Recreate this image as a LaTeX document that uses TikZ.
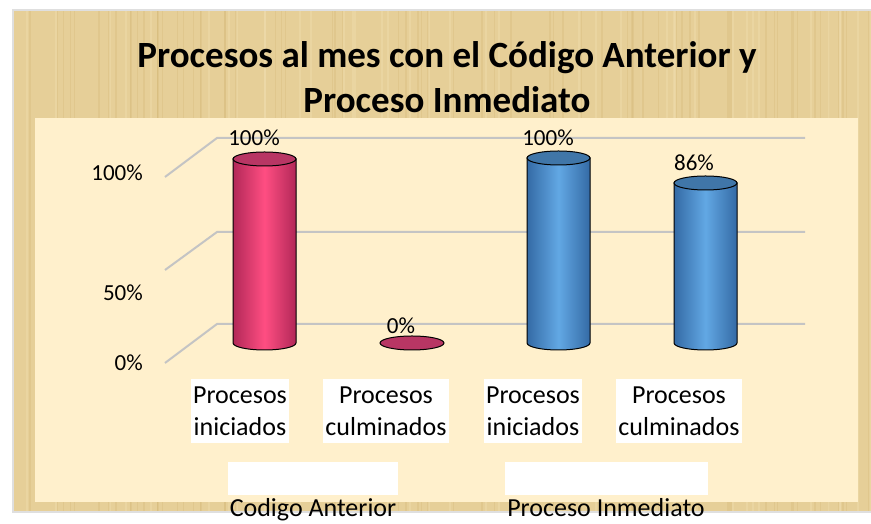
\documentclass[tikz,border=0pt]{standalone}
\usepackage{fontspec}
\setmainfont{Carlito}

\definecolor{paper}{RGB}{230,207,152}
\definecolor{paperdark}{RGB}{214,186,122}
\definecolor{paperlight}{RGB}{240,222,176}
\definecolor{cream}{RGB}{255,240,204}
\definecolor{gridgray}{RGB}{196,196,196}
\definecolor{pinkdark}{RGB}{178,40,88}
\definecolor{pinkmid}{RGB}{255,78,130}
\definecolor{pinktop}{RGB}{184,54,100}
\definecolor{bluedark}{RGB}{52,106,165}
\definecolor{bluemid}{RGB}{98,168,228}
\definecolor{bluetop}{RGB}{64,118,168}

% cylinder: centre x, top y, colour prefix
\newcommand{\cylbar}[3]{%
  \shade[left color=#3dark,right color=#3dark,middle color=#3mid,draw=black,line width=1pt]
    (#1-31.5,#2) -- (#1-31.5,181) arc[start angle=180,end angle=360,x radius=31.5,y radius=7]
    -- (#1+31.5,#2) -- cycle;
  \filldraw[fill=#3top,line width=1pt] (#1,#2) ellipse[x radius=31.5,y radius=7];
}

\begin{document}
\begin{tikzpicture}[x=1pt,y=1pt,
  vallabel/.style={font=\fontsize{23}{27}\selectfont,inner sep=0pt},
  catlabel/.style={fill=white,align=center,font=\fontsize{26}{32}\selectfont,inner sep=2pt,minimum height=64pt},
  blankbox/.style={fill=white,minimum height=33pt,inner sep=0pt},
  axistitle/.style={font=\fontsize{26}{32}\selectfont,inner sep=0pt,anchor=base},
  gridline/.style={draw=gridgray,line width=2pt}]
\useasboundingbox (0,0) rectangle (871,524);
\fill[white] (0,0) rectangle (871,524);
\filldraw[fill=paper,draw=gray!25,line width=1.5pt] (13,12) rectangle (872,514);
% papyrus fibres
\begin{scope}
\clip (14,13) rectangle (871,513);
\pgfmathsetseed{7}
\foreach \i in {1,...,70}
  \draw[paperdark,opacity=0.35,line width=1.5pt] ({14+rnd*857},13) -- ++(0,500);
\foreach \i in {1,...,40}
  \draw[paperlight,opacity=0.4,line width=2pt] ({14+rnd*857},13) -- ++(0,500);
\end{scope}
\fill[cream] (35,22) rectangle (858,406);

\node[font=\bfseries\fontsize{37}{45}\selectfont,align=center] (title) at (447,447)
  {Procesos al mes con el Código Anterior y\\Proceso Inmediato};

% grid
\foreach \y/\z in {386/347,292/254,200/161}
  \draw[gridline] (165,\z) -- (217,\y) -- (805,\y);
\node[vallabel,anchor=east] (y100) at (143,351) {100\%};
\node[vallabel,anchor=east] (y50) at (143,231) {50\%};
\node[vallabel,anchor=east] (y0) at (143,161) {0\%};

% bars
\cylbar{264.5}{365}{pink}
\filldraw[fill=pinktop,line width=1pt] (412,181) ellipse[x radius=32,y radius=7];
\cylbar{558.5}{366}{blue}
\cylbar{705.5}{341}{blue}

\node[vallabel] (v1) at (254,386) {100\%};
\node[vallabel] (v2) at (401,198) {0\%};
\node[vallabel] (v3) at (548,386) {100\%};
\node[vallabel] (v4) at (694,361) {86\%};

\node[catlabel] (ini1) at (240,113) {Procesos\\iniciados};
\node[catlabel] (cul1) at (386,113) {Procesos\\culminados};
\node[catlabel] (ini2) at (533,113) {Procesos\\iniciados};
\node[catlabel] (cul2) at (679,113) {Procesos\\culminados};

\node[blankbox,minimum width=170pt] (blank1) at (313,45.5) {};
\node[blankbox,minimum width=203pt] (blank2) at (606.5,45.5) {};
\node[axistitle] (cod) at (313,7) {Codigo Anterior};
\node[axistitle] (inm) at (606,7) {Proceso Inmediato};
\end{tikzpicture}
\end{document}
